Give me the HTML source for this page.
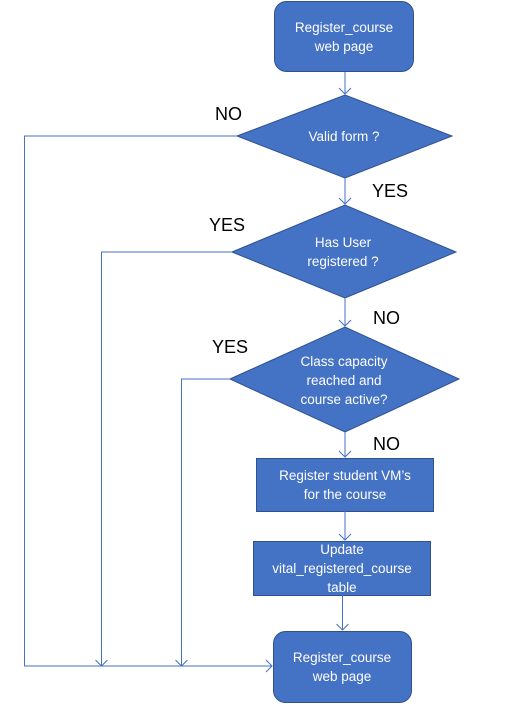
<!DOCTYPE html>
<html><head><meta charset="utf-8"><style>
html,body{margin:0;padding:0;background:#fff;}
svg{display:block;}
.n{font-family:"Liberation Sans",sans-serif;font-size:13.5px;fill:#fff;text-anchor:middle;}
.l{font-family:"Liberation Sans",sans-serif;font-size:18px;fill:#000;}
</style></head><body>
<svg width="518" height="706" viewBox="0 0 518 706" xmlns="http://www.w3.org/2000/svg">
<g fill="#4472C4" stroke="#2F528F" stroke-width="1">
<rect x="274.5" y="1.5" width="139" height="70" rx="12"/>
<polygon points="237,136 345,95 452,136 345,178"/>
<polygon points="232,252 345,205 456,252 345,298"/>
<polygon points="230,379 345,327 459,379 345,432"/>
<rect x="256.5" y="458.5" width="177" height="53"/>
<rect x="253.5" y="541.5" width="177" height="54"/>
<rect x="273.5" y="631.5" width="138" height="71" rx="12"/>
</g>
<g stroke="#4472C4" stroke-width="1" fill="none">
<path d="M345 72V94M339 88l6 6 6-6"/>
<path d="M345 178V204M339 198l6 6 6-6"/>
<path d="M345 298V326M339 320l6 6 6-6"/>
<path d="M345 432V457M339 451l6 6 6-6"/>
<path d="M345 511V540M339 534l6 6 6-6"/>
<path d="M342.5 595V630M336.5 624l6 6 6-6"/>
<path d="M237 136H24.5V666H272M266 660l6 6-6 6"/>
<path d="M232 252H101.5V666M95.5 660l6 6 6-6"/>
<path d="M230 379H181.5V666M175.5 660l6 6 6-6"/>
</g>
<text class="n" x="344" y="32">Register_course</text>
<text class="n" x="344" y="51">web page</text>
<text class="n" x="344" y="141">Valid form ?</text>
<text class="n" x="343" y="247">Has User</text>
<text class="n" x="343" y="266">registered ?</text>
<text class="n" x="344" y="366">Class capacity</text>
<text class="n" x="344" y="385">reached and</text>
<text class="n" x="344" y="404">course active?</text>
<text class="n" x="345" y="480">Register student VM’s</text>
<text class="n" x="345" y="499">for the course</text>
<text class="n" x="342" y="554">Update</text>
<text class="n" x="342" y="573">vital_registered_course</text>
<text class="n" x="342" y="592">table</text>
<text class="n" x="342" y="662">Register_course</text>
<text class="n" x="342" y="681">web page</text>
<text class="l" x="215" y="120">NO</text>
<text class="l" x="372" y="197">YES</text>
<text class="l" x="209" y="231">YES</text>
<text class="l" x="373" y="324">NO</text>
<text class="l" x="212" y="353">YES</text>
<text class="l" x="373" y="450">NO</text>
</svg>
</body></html>
